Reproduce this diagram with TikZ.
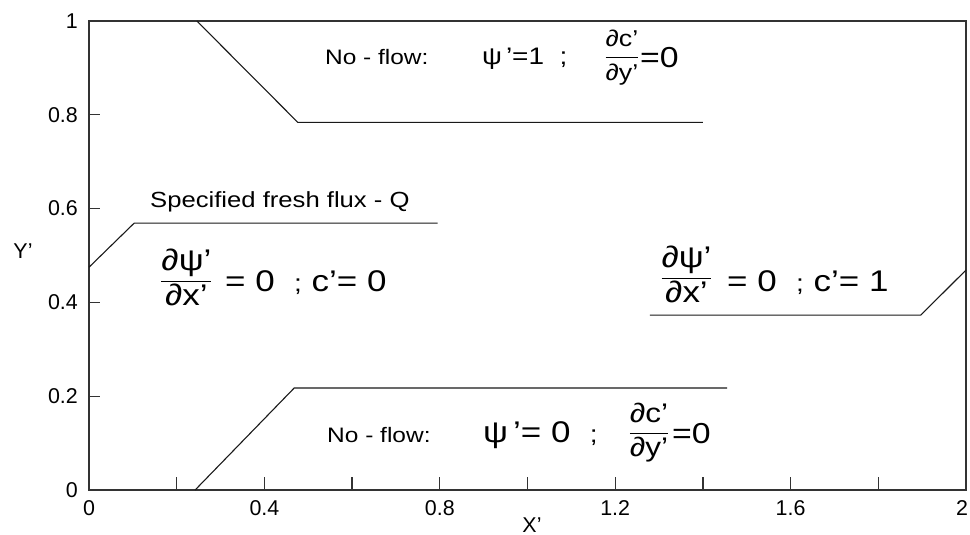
\documentclass[tikz,border=0pt]{standalone}
\usepackage{amsmath}
\usepackage{fontspec}
\setmainfont{Liberation Sans}
\newfontfamily\annfont[FakeStretch=1.17]{Liberation Sans}
\usetikzlibrary{calc}

\newcommand{\pfrac}[2]{$\genfrac{}{}{0.7pt}{0}{\hbox{#1}}{\hbox{#2}}$}

\tikzset{
  frame/.style={line width=1.7pt, black!80},
  bdry/.style={line width=1.1pt, black!90},
  ticmark/.style={line width=1.3pt, black!80},
  ticklab/.style={inner sep=0pt, font=\fontsize{21.5}{24}\selectfont},
  ann/.style={inner sep=0pt, anchor=base west, font=\annfont\fontsize{#1}{#1}\selectfont},
  frac/.style={inner sep=0pt, anchor=base, font=\annfont\fontsize{#1}{#1}\selectfont},
}

\begin{document}
\begin{tikzpicture}[x=438.5bp, y=469bp]

    % 1. Fix the canvas
    \useasboundingbox (-89bp,-45bp) rectangle (881bp,490bp);

    % 2. Define the coordinates
    \coordinate (O) at (0,0);
    \coordinate (E) at (2,1);

    % top boundary
    \coordinate (T1) at (0.246,1);
    \coordinate (T2) at (0.476,0.784);
    \coordinate (T3) at (1.400,0.784);
    % left boundary
    \coordinate (L1) at (0,0.475);
    \coordinate (L2) at (0.103,0.569);
    \coordinate (L3) at (0.795,0.569);
    % right boundary
    \coordinate (R1) at (1.279,0.373);
    \coordinate (R2) at (1.897,0.373);
    \coordinate (R3) at (2,0.469);
    % bottom boundary
    \coordinate (B1) at (0.242,0);
    \coordinate (B2) at (0.468,0.2175);
    \coordinate (B3) at (1.455,0.2175);

    % 3. Ticks and their labels
    \foreach \x in {0.2,0.4,0.6,0.8,1.0,1.2,1.4,1.6,1.8}
        \draw[ticmark] (\x,0) -- ++(0,13bp);
    \foreach \y in {0.2,0.4,0.6,0.8}
        \draw[ticmark] (0,\y) -- ++(11bp,0);
    \foreach \x [count=\i] in {0,0.4,0.8,1.2,1.6}
        \node[ticklab, yshift=-18.5bp] (xl\i) at (\x,0) {\x};
    \node[ticklab, yshift=-18.5bp, xshift=-4bp] (xl6) at (2,0) {2};
    \foreach \y [count=\i] in {0,0.2,0.4,0.6,0.8,1}
        \node[ticklab, anchor=east, xshift=-11bp] (yl\i) at (0,\y) {\y};

    \node[ticklab, yshift=-35bp] (xt) at (1.0103,0) {X’};
    \node[ticklab, xshift=-66bp] (yt) at (0,0.5096) {Y’};

    % 4. Draw the domain
    \draw[frame] (O) rectangle (E);

    % 5. Draw the boundary segments
    \draw[bdry] (T1) -- (T2) -- (T3);
    \draw[bdry] (L1) -- (L2) -- (L3);
    \draw[bdry] (R1) -- (R2) -- (R3);
    \draw[bdry] (B1) -- (B2) -- (B3);

    % 6. Top condition
    \node[ann=21] (topflow) at (0.538,0.908) {No - flow:};
    \node[ann=24] (toppsi) at (0.896,0.908) {ψ\,’=1\ \ ;};
    \node[frac=23] (topfrac) at (1.2155,0.909) {\pfrac{∂c’}{∂y’}};
    \node[ann=29] (topeq) at (1.2566,0.900) {=0};

    % 7. Left condition
    \node[ann=22] (spec) at (0.1391,0.6013) {Specified fresh flux - Q};
    \node[frac=30] (leftfrac) at (0.2223,0.4318) {\pfrac{∂ψ’}{∂x’}};
    \node[ann=30] (lefteq) at (0.3102,0.4222) {= 0\ \ {\fontsize{24}{24}\selectfont ;}\ c’= 0};

    % 8. Right condition
    \node[frac=30] (rightfrac) at (1.3626,0.4382) {\pfrac{∂ψ’}{∂x’}};
    \node[ann=30] (righteq) at (1.455,0.4243) {= 0\ \ {\fontsize{24}{24}\selectfont ;}\ c’= 1};

    % 9. Bottom condition
    \node[ann=21] (botflow) at (0.5428,0.1023) {No - flow:};
    \node[ann=30] (botpsi) at (0.8985,0.1023) {ψ\,’= 0\ \ {\fontsize{24}{24}\selectfont ;}};
    \node[frac=27] (botfrac) at (1.2771,0.1071) {\pfrac{∂c’}{∂y’}};
    \node[ann=29] (boteq) at (1.3295,0.0981) {=0};

\end{tikzpicture}
\end{document}
